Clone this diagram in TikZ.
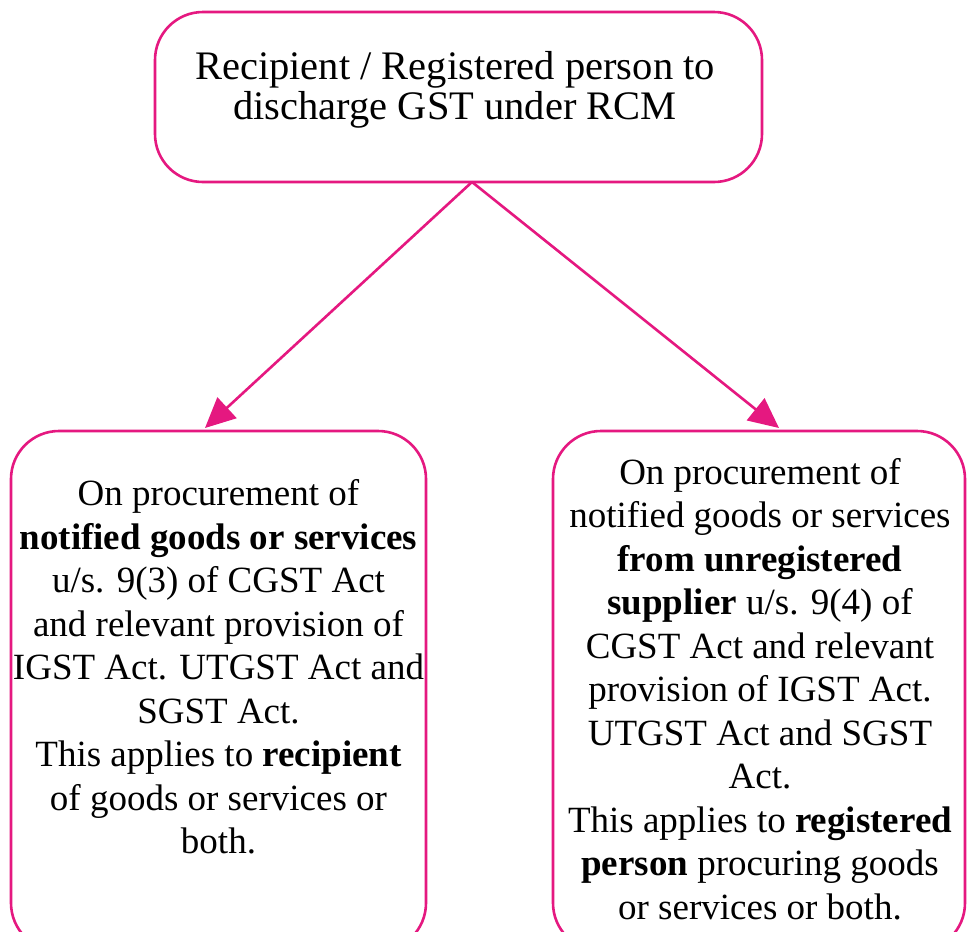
\documentclass[tikz,border=0pt]{standalone}
\usepackage{fontspec}
\setmainfont{Liberation Serif}
\usetikzlibrary{arrows.meta}
\definecolor{rcmpink}{RGB}{229,24,128}
\begin{document}
\begin{tikzpicture}[x=1pt,y=-1pt,
  boxstyle/.style={draw=rcmpink, line width=2.6pt, rounded corners=48pt, fill=white, inner sep=0pt},
  txt/.style={align=center, text=black, inner sep=0pt, font=\fontsize{37}{43.5}\selectfont},
  toptxt/.style={align=center, text=black, inner sep=0pt, font=\fontsize{40.5}{40}\selectfont},
  conn/.style={draw=rcmpink, line width=2.6pt, -{Triangle[length=30pt,width=28pt]}}
]
\clip (0,0) rectangle (967,932);
\fill[white] (0,0) rectangle (967,932);
% top box
\node[boxstyle, minimum width=607pt, minimum height=170pt] (top) at (458.5,97) {};
\node[toptxt] (toptext) at (455,90) {Recipient / Registered person to\\discharge GST under RCM};
% left box
\node[boxstyle, minimum width=415pt, minimum height=520pt] (left) at (218.5,691) {};
\node[txt] (lefttext) at (218.5,667) {On procurement of\\\textbf{notified goods or services}\\u/s. 9(3) of CGST Act\\and relevant provision of\\IGST Act. UTGST Act and\\SGST Act.\\This applies to \textbf{recipient}\\of goods or services or\\both.};
% right box
\node[boxstyle, minimum width=412pt, minimum height=520pt] (right) at (759,691) {};
\node[txt] (righttext) at (760,689) {On procurement of\\notified goods or services\\\textbf{from unregistered}\\\textbf{supplier} u/s. 9(4) of\\CGST Act and relevant\\provision of IGST Act.\\UTGST Act and SGST\\Act.\\This applies to \textbf{registered}\\\textbf{person} procuring goods\\or services or both.};
% connectors
\coordinate (apex) at (472,182);
\coordinate (ltip) at (205,428);
\coordinate (rtip) at (779,428);
\draw[conn] (apex) -- (ltip);
\draw[conn] (apex) -- (rtip);
\end{tikzpicture}
\end{document}
